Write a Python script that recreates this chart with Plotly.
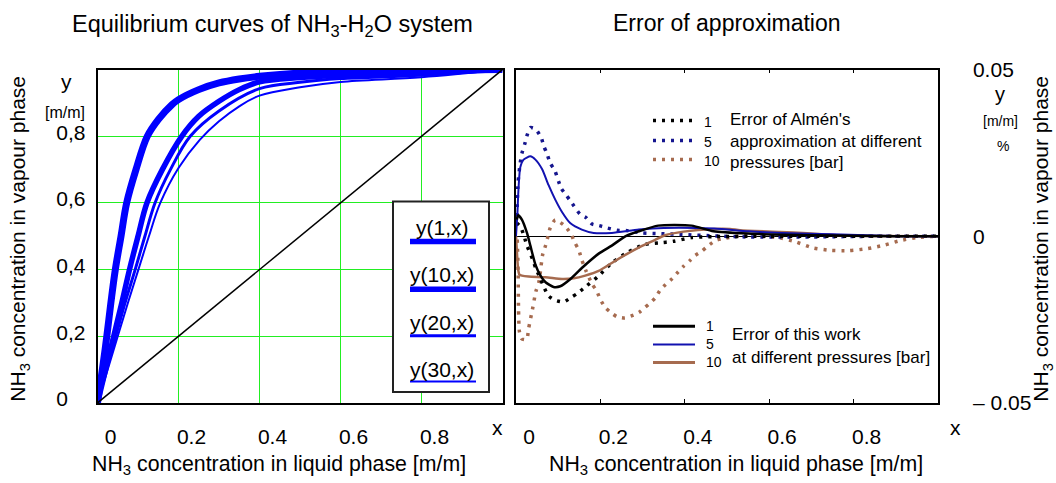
import plotly.graph_objects as go

W, H = 1056, 483
FONT = "Liberation Sans, Arial, sans-serif"

# ---------------- Equilibrium curves y(p, x), NH3-H2O ----------------
x_p1 = [0, 0.012, 0.023, 0.033, 0.044, 0.058, 0.072, 0.095, 0.123, 0.15, 0.184, 0.2, 0.25, 0.3, 0.35, 0.4, 0.5, 0.6, 0.8, 1.0]
y_p1 = [0, 0.1, 0.2, 0.3, 0.4, 0.5, 0.6, 0.7, 0.8, 0.85, 0.895, 0.91, 0.94, 0.96, 0.972, 0.98, 0.99, 0.994, 0.998, 1.0]

x_p10 = [0, 0.02, 0.04, 0.06, 0.079, 0.1, 0.122, 0.16, 0.208, 0.25, 0.3, 0.35, 0.4, 0.5, 0.6, 0.8, 1.0]
y_p10 = [0, 0.1, 0.2, 0.3, 0.4, 0.5, 0.6, 0.7, 0.8, 0.86, 0.905, 0.94, 0.963, 0.976, 0.983, 0.99, 1.0]

x_p20 = [0, 0.022, 0.045, 0.068, 0.093, 0.117, 0.142, 0.18, 0.229, 0.3, 0.4, 0.5, 0.6, 0.8, 1.0]
y_p20 = [0, 0.1, 0.2, 0.3, 0.4, 0.5, 0.6, 0.7, 0.8, 0.876, 0.943, 0.962, 0.973, 0.983, 1.0]

x_p30 = [0, 0.025, 0.05, 0.075, 0.101, 0.127, 0.155, 0.2, 0.253, 0.3, 0.35, 0.4, 0.5, 0.6, 0.8, 1.0]
y_p30 = [0, 0.1, 0.2, 0.3, 0.4, 0.5, 0.6, 0.705, 0.79, 0.845, 0.89, 0.922, 0.947, 0.963, 0.977, 1.0]

diag = [0, 1]

eq_names = ["y(1,x)", "y(10,x)", "y(20,x)", "y(30,x)"]
eq_widths = [7, 5.5, 3, 2]

# ---------------- Approximation error, this work ----------------
x_w1 = [0.002, 0.005, 0.014, 0.026, 0.034, 0.046, 0.058, 0.07, 0.089, 0.105, 0.129, 0.156, 0.196, 0.227, 0.259,
        0.291, 0.337, 0.416, 0.468, 0.55, 0.7, 0.9, 1.0]
y_w1 = [0.005, 0.0063, 0.005, 0.001, -0.0028, -0.0085, -0.0118, -0.0138, -0.0152, -0.015, -0.0128, -0.0095, -0.0052,
        -0.0028, 0.0, 0.0015, 0.0032, 0.0032, 0.0015, 0.0008, 0.0003, 0.0, 0.0]

x_w5 = [0.0, 0.003, 0.006, 0.01, 0.018, 0.034, 0.046, 0.062, 0.077, 0.093, 0.109, 0.129, 0.156, 0.184, 0.227,
        0.291, 0.35, 0.47, 0.55, 0.63, 0.75, 0.91, 1.0]
y_w5 = [0.0, 0.006, 0.0144, 0.0206, 0.023, 0.024, 0.023, 0.0201, 0.0154, 0.011, 0.0073, 0.0039, 0.002, 0.001, 0.001,
        0.002, 0.0025, 0.0023, 0.0015, 0.001, 0.0006, 0.0, 0.0]

x_w10 = [0.0, 0.003, 0.005, 0.008, 0.014, 0.03, 0.07, 0.109, 0.137, 0.164, 0.196, 0.227, 0.259, 0.294, 0.326,
         0.353, 0.397, 0.468, 0.507, 0.531, 0.626, 0.69, 0.76, 0.847, 1.0]
y_w10 = [0.0, -0.0066, -0.0099, -0.0115, -0.0118, -0.0121, -0.0123, -0.0128, -0.0126, -0.0118, -0.0104, -0.008,
         -0.0056, -0.0032, -0.0013, 0.0003, 0.0014, 0.0022, 0.0022, 0.0018, 0.0013, 0.0009, 0.0003, 0.0001, 0.0]

# ---------------- Approximation error, Almén ----------------
x_a1 = [0.002, 0.01, 0.018, 0.026, 0.04, 0.047, 0.058, 0.066, 0.077, 0.093, 0.113, 0.131, 0.146, 0.166, 0.194,
        0.227, 0.263, 0.303, 0.338, 0.373, 0.416, 0.47, 0.6, 0.75, 0.9, 1.0]
y_a1 = [0.004, 0.003, 0.0005, -0.0028, -0.0071, -0.0096, -0.0128, -0.0152, -0.0179, -0.0192, -0.0197, -0.0183,
        -0.0171, -0.015, -0.0121, -0.008, -0.0049, -0.0025, -0.002, -0.0015, -0.0004, -0.0001, 0.0, 0.0, 0.0, 0.0]

x_a5 = [0.002, 0.005, 0.01, 0.014, 0.021, 0.026, 0.034, 0.047, 0.06, 0.066, 0.073, 0.081, 0.092, 0.107, 0.118,
        0.129, 0.152, 0.166, 0.18, 0.197, 0.216, 0.239, 0.263, 0.299, 0.342, 0.4, 0.47, 0.55, 0.7, 0.85, 1.0]
y_a5 = [0.006, 0.0163, 0.022, 0.0249, 0.0278, 0.0302, 0.0326, 0.0321, 0.0295, 0.027, 0.0249, 0.022, 0.0197, 0.0144,
        0.0125, 0.0106, 0.0066, 0.0056, 0.0037, 0.0032, 0.0025, 0.0018, 0.0017, 0.001, 0.0008, 0.0005, 0.0001,
        -0.0002, -0.0002, 0.0, 0.0]

x_a10 = [0.003, 0.005, 0.006, 0.008, 0.013, 0.02, 0.026, 0.03, 0.039, 0.047, 0.054, 0.058, 0.063, 0.07, 0.076,
         0.081, 0.093, 0.113, 0.129, 0.139, 0.149, 0.156, 0.166, 0.18, 0.192, 0.2, 0.212, 0.226, 0.239, 0.258,
         0.279, 0.292, 0.305, 0.318, 0.33, 0.342, 0.355, 0.371, 0.385, 0.397, 0.411, 0.424, 0.44, 0.454, 0.472,
         0.491, 0.531, 0.578, 0.622, 0.661, 0.701, 0.743, 0.788, 0.833, 0.874, 0.91, 0.949, 0.993]
y_a10 = [-0.001, -0.0104, -0.0219, -0.0285, -0.0307, -0.031, -0.0307, -0.0276, -0.0219, -0.0166, -0.0138, -0.0104,
         -0.0056, -0.0028, 0.0001, 0.0025, 0.0049, 0.0034, 0.001, -0.0018, -0.0042, -0.0071, -0.0104, -0.0142,
         -0.0166, -0.019, -0.0214, -0.023, -0.0241, -0.0245, -0.0236, -0.0228, -0.0214, -0.02, -0.0185, -0.0161,
         -0.0144, -0.0126, -0.0106, -0.009, -0.0074, -0.0058, -0.0045, -0.003, -0.0013, -0.0007, 0.0001, 0.0,
         -0.0004, -0.0016, -0.0034, -0.0042, -0.0043, -0.0037, -0.0026, -0.0013, -0.0004, 0.0]

pressures = ["1", "5", "10"]

# ---------------- styling ----------------
BLUE = "#0000ff"
GREEN = "#22ee22"
NAVY = "#15158e"
SOLID_BLUE = "#1212b0"
BROWN = "#a66b4f"
DOT = "3px,6px"


def pxx(p):
    return p / W


def pxy(p):
    return 1 - p / H


fig = go.Figure()

# left panel: equilibrium curves
for xs, ys, w in zip([x_p1, x_p10, x_p20, x_p30], [y_p1, y_p10, y_p20, y_p30], eq_widths):
    fig.add_trace(go.Scatter(x=xs, y=ys, mode="lines", xaxis="x", yaxis="y",
                             line=dict(color=BLUE, width=w, shape="spline", smoothing=1.0)))
fig.add_trace(go.Scatter(x=diag, y=diag, mode="lines", xaxis="x", yaxis="y",
                         line=dict(color="black", width=1.5)))

# right panel: Almén dotted, this work solid
for xs, ys, c in zip([x_a10, x_a5, x_a1], [y_a10, y_a5, y_a1], [BROWN, NAVY, "black"]):
    fig.add_trace(go.Scatter(x=xs, y=ys, mode="lines", xaxis="x2", yaxis="y2",
                             line=dict(color=c, width=3.5, dash=DOT, shape="spline", smoothing=0.6)))
for xs, ys, c, w in zip([x_w10, x_w5, x_w1], [y_w10, y_w5, y_w1], [BROWN, SOLID_BLUE, "black"], [2.5, 2, 2.5]):
    fig.add_trace(go.Scatter(x=xs, y=ys, mode="lines", xaxis="x2", yaxis="y2",
                             line=dict(color=c, width=w, shape="spline", smoothing=0.6)))

tick_x = [0, 0.2, 0.4, 0.6, 0.8]
tick_x_text = ["0", "0.2", "0.4", "0.6", "0.8"]
tick_y = [0, 0.2, 0.4, 0.6, 0.8]
tick_y_text = ["0\u00a0\u00a0\u00a0", "0,2", "0,4", "0,6", "0,8"]
tick_e = [-0.05, 0, 0.05]
tick_e_text = ["\u2013 0.05", "0", "0.05"]

TICKFONT = dict(family=FONT, size=21, color="black")
ydom = [pxy(410.5), pxy(60.5)]
fig.update_layout(
    width=W, height=H, margin=dict(l=0, r=0, t=0, b=0),
    paper_bgcolor="white", plot_bgcolor="white", showlegend=False,
    font=dict(family=FONT, size=20, color="black"),
    xaxis=dict(domain=[pxx(97.5), pxx(502.5)], range=[0, 1], tickvals=tick_x, ticktext=tick_x_text,
               showgrid=True, gridcolor=GREEN, gridwidth=1, zeroline=False, ticks="", tickfont=TICKFONT,
               showline=True, mirror=True, linecolor="black", linewidth=1.5,
               ticklabelshift=13, ticklabelstandoff=14, anchor="y"),
    yaxis=dict(domain=ydom, range=[0, 1], tickvals=tick_y, ticktext=tick_y_text,
               showgrid=True, gridcolor=GREEN, gridwidth=1, zeroline=False, ticks="", tickfont=TICKFONT,
               showline=True, mirror=True, linecolor="black", linewidth=1.5,
               ticklabelstandoff=6, ticklabelshift=-4, anchor="x"),
    xaxis2=dict(domain=[pxx(516), pxx(938)], range=[0, 1], tickvals=tick_x, ticktext=tick_x_text,
                showgrid=False, zeroline=False, ticks="inside", ticklen=4, tickcolor="black", tickfont=TICKFONT,
                showline=True, mirror="ticks", linecolor="black", linewidth=1.5,
                ticklabelshift=13, ticklabelstandoff=14, anchor="y2"),
    yaxis2=dict(domain=ydom, range=[-0.05, 0.05], tickvals=tick_e, ticktext=tick_e_text, side="right",
                showgrid=False, zeroline=True, zerolinecolor="black", zerolinewidth=1, ticks="", tickfont=TICKFONT,
                showline=True, mirror=True, linecolor="black", linewidth=1.5,
                ticklabelstandoff=29, anchor="x2"),
)

ann = []


def text(x, y, s, size=20, xanchor="center", yanchor="middle", angle=0, color="black"):
    ann.append(dict(x=pxx(x), y=pxy(y), xref="paper", yref="paper", text=s, showarrow=False,
                    xanchor=xanchor, yanchor=yanchor, textangle=angle,
                    font=dict(size=size, color=color, family=FONT)))


# titles
text(272, 14, "Equilibrium curves of NH<sub>3</sub>-H<sub>2</sub>O system", 23.5)
text(727, 12, "Error of approximation", 23)
# axis titles
text(279, 476, "NH<sub>3</sub> concentration in liquid phase [m/m]", 21.3)
text(736, 476, "NH<sub>3</sub> concentration in liquid phase [m/m]", 21.3)
text(19, 238, "NH<sub>3</sub> concentration in vapour phase", 21, angle=-90)
text(1042, 238, "NH<sub>3</sub> concentration in vapour phase", 21, angle=-90)
# axis end markers and units
text(497, 436, "x", 21)
text(955, 436, "x", 21)
text(66, 73, "y", 21)
text(65, 106, "[m/m]", 16)
text(1000, 86, "y", 20)
text(1000, 114, "[m/m]", 14)
text(1003, 141, "%", 14)

shapes = []

# legend for the equilibrium curves
shapes.append(dict(type="rect", xref="paper", yref="paper", x0=pxx(393), x1=pxx(489), y0=pxy(399), y1=pxy(199),
                   line=dict(color="#222222", width=2), fillcolor="white", layer="above"))
leg_text_y = [226, 276, 326, 375]
leg_line_y = [241, 291, 340, 388]
for name, w, ty, ly in zip(eq_names, eq_widths, leg_text_y, leg_line_y):
    text(442, ty, name, 21)
    shapes.append(dict(type="line", xref="paper", yref="paper", x0=pxx(410), x1=pxx(476), y0=pxy(ly), y1=pxy(ly),
                       line=dict(color=BLUE, width=min(w, 5.5)), layer="above"))

# legend for Almén's approximation (dotted)
for p, c, ly in zip(pressures, ["black", NAVY, BROWN], [114, 135, 155]):
    shapes.append(dict(type="line", xref="paper", yref="paper", x0=pxx(653), x1=pxx(694), y0=pxy(ly), y1=pxy(ly),
                       line=dict(color=c, width=3.5, dash=DOT)))
    text(702, ly + 1, p, 14, xanchor="left")
text(728, 113, "Error of Almén's", 17, xanchor="left")
text(728, 136, "approximation at different", 17, xanchor="left")
text(728, 158, "pressures [bar]", 17, xanchor="left")

# legend for this work (solid)
for p, c, w, ly in zip(pressures, ["black", SOLID_BLUE, BROWN], [3, 2, 3], [330, 349, 368]):
    shapes.append(dict(type="line", xref="paper", yref="paper", x0=pxx(653), x1=pxx(695), y0=pxy(ly), y1=pxy(ly),
                       line=dict(color=c, width=w)))
    text(704, ly, p, 14, xanchor="left")
text(730, 339, "Error of this work", 17, xanchor="left")
text(730, 363, "at different pressures [bar]", 17, xanchor="left")

fig.update_layout(annotations=ann, shapes=shapes)
fig.write_html("out.html")
